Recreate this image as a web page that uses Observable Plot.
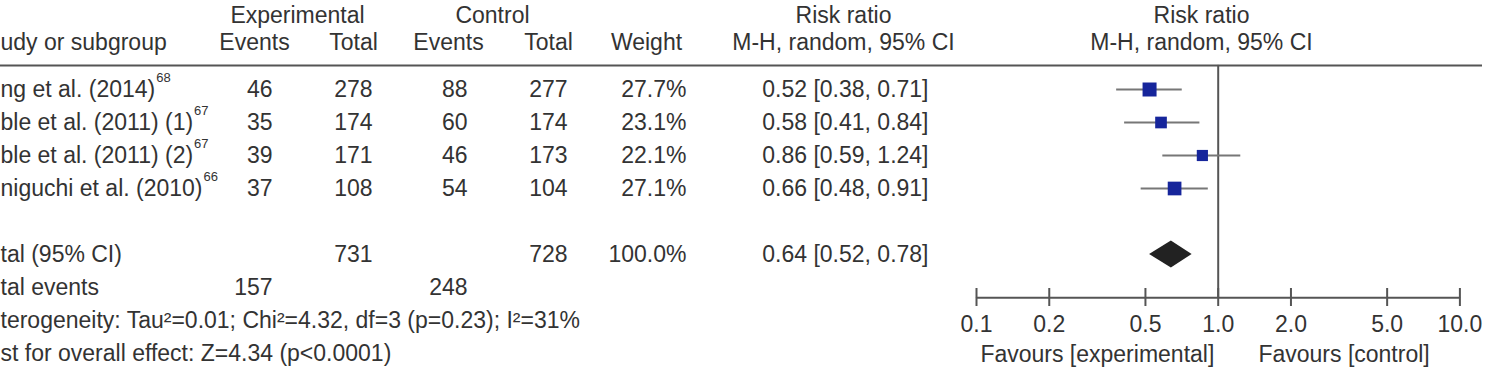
<!DOCTYPE html>
<html>
<head>
<meta charset="utf-8">
<script src="https://cdn.jsdelivr.net/npm/d3@7"></script>
<script src="https://cdn.jsdelivr.net/npm/@observablehq/plot@0.6"></script>
<style>
  html, body { margin: 0; padding: 0; background: #fff; }
  #chart svg { display: block; }
</style>
</head>
<body>
<div id="chart"></div>
<script>
// ---------- data ----------
const studyNames   = ["ng et al. (2014)", "ble et al. (2011) (1)", "ble et al. (2011) (2)", "niguchi et al. (2010)"];
const studyRefs    = ["68", "67", "67", "66"];
const expEvents    = [46, 35, 39, 37];
const expTotals    = [278, 174, 171, 108];
const ctrlEvents   = [88, 60, 46, 54];
const ctrlTotals   = [277, 174, 173, 104];
const weights      = [27.7, 23.1, 22.1, 27.1];
const riskRatios   = [0.52, 0.58, 0.86, 0.66];
const ciLower      = [0.38, 0.41, 0.59, 0.48];
const ciUpper      = [0.71, 0.84, 1.24, 0.91];

const totalLabel     = "tal (95% CI)";
const totalExp       = 731;
const totalCtrl      = 728;
const totalWeight    = 100.0;
const pooledRR       = 0.64;
const pooledLower    = 0.52;
const pooledUpper    = 0.78;
const eventsLabel    = "tal events";
const totalExpEvents = 157;
const totalCtrlEvents = 248;
const heterogeneityText = "terogeneity: Tau\u00B2=0.01; Chi\u00B2=4.32, df=3 (p=0.23); I\u00B2=31%";
const overallText       = "st for overall effect: Z=4.34 (p<0.0001)";

const headerTop = ["Experimental", "Control", "Risk ratio", "Risk ratio"];
const headerSub = ["udy or subgroup", "Events", "Total", "Events", "Total", "Weight", "M-H, random, 95% CI", "M-H, random, 95% CI"];
const xTicks = [0.1, 0.2, 0.5, 1, 2, 5, 10];
const favourLabels = ["Favours [experimental]", "Favours [control]"];

// ---------- layout ----------
const FONT = "'Liberation Sans', Arial, sans-serif";
const FS = 23;
const topPos = [297, 492, 843, 1201];
const subPos = [0, 254, 353, 448, 548, 646, 843, 1201];
const subAnchor = ["start", "middle", "middle", "middle", "middle", "middle", "middle", "middle"];
const colRight = {expE: 272, expT: 372, ctrlE: 467, ctrlT: 567, weight: 686, rr: 928};
const studyX = 0;
const rowHeaderTop = -2.24, rowHeaderSub = -1.41, rowLine = -0.73;
const rowTotal = 5, rowEvents = 6, rowHet = 7, rowTest = 8;
const rowAxis = 6.31, rowTickTop = 6.03, rowFavour = 8.03;
const favourShift = [0, 5];
const TEXT = "#333", LINE = "#555";

const fmt2 = v => v.toFixed(2);
const ciText = (m, l, u) => `${fmt2(m)} [${fmt2(l)}, ${fmt2(u)}]`;

const studies = studyNames.map((name, i) => ({
  row: i, name, ref: studyRefs[i],
  ee: expEvents[i], et: expTotals[i], ce: ctrlEvents[i], ct: ctrlTotals[i],
  w: weights[i], rr: riskRatios[i], lo: ciLower[i], hi: ciUpper[i],
  wText: weights[i].toFixed(1) + "%", ci: ciText(riskRatios[i], ciLower[i], ciUpper[i])
}));

// measure name widths for superscript placement
const ctx = document.createElement("canvas").getContext("2d");
ctx.font = `${FS}px ${FONT}`;
studies.forEach(d => d.nameW = ctx.measureText(d.name).width);

const diamond = [
  {x: pooledLower, h: 0},
  {x: pooledRR, h: 1},
  {x: pooledUpper, h: 0}
];
const diamondHalf = 0.41;

const totalRow = [{row: rowTotal}];
const eventsRow = [{row: rowEvents}];

const leftText = (data, opts) => Plot.text(data, {frameAnchor: "left", ...opts});

const chart = Plot.plot({
  width: 1486,
  height: 371,
  marginTop: 0,
  marginLeft: 0,
  marginRight: 4,
  marginBottom: 74,
  style: {fontFamily: FONT, fontSize: FS + "px", color: TEXT, background: "#fff", overflow: "visible"},
  x: {type: "log", domain: [0.1, 10], range: [976, 1459.4], label: null},
  y: {domain: [0, 8], range: [89, 353], axis: null},
  r: {type: "linear", domain: [0, 27.7], range: [0, 7.9]},
  marks: [
    // header rule
    Plot.ruleY([rowLine], {stroke: LINE, strokeWidth: 2}),
    // headers
    ...headerTop.map((t, i) => leftText([t], {y: () => rowHeaderTop, text: d => d, dx: topPos[i], textAnchor: "middle"})),
    ...headerSub.map((t, i) => leftText([t], {y: () => rowHeaderSub, text: d => d, dx: subPos[i], textAnchor: subAnchor[i]})),
    // study rows
    leftText(studies, {y: "row", text: "name", dx: studyX, textAnchor: "start"}),
    ...studies.map(d => leftText([d], {y: "row", text: "ref", dx: studyX + d.nameW + 1, dy: -12, textAnchor: "start", fontSize: 13})),
    leftText(studies, {y: "row", text: "ee", dx: colRight.expE, textAnchor: "end"}),
    leftText(studies, {y: "row", text: "et", dx: colRight.expT, textAnchor: "end"}),
    leftText(studies, {y: "row", text: "ce", dx: colRight.ctrlE, textAnchor: "end"}),
    leftText(studies, {y: "row", text: "ct", dx: colRight.ctrlT, textAnchor: "end"}),
    leftText(studies, {y: "row", text: "wText", dx: colRight.weight, textAnchor: "end"}),
    leftText(studies, {y: "row", text: "ci", dx: colRight.rr, textAnchor: "end"}),
    // total row
    leftText(totalRow, {y: "row", text: () => totalLabel, dx: studyX, textAnchor: "start"}),
    leftText(totalRow, {y: "row", text: () => String(totalExp), dx: colRight.expT, textAnchor: "end"}),
    leftText(totalRow, {y: "row", text: () => String(totalCtrl), dx: colRight.ctrlT, textAnchor: "end"}),
    leftText(totalRow, {y: "row", text: () => totalWeight.toFixed(1) + "%", dx: colRight.weight, textAnchor: "end"}),
    leftText(totalRow, {y: "row", text: () => ciText(pooledRR, pooledLower, pooledUpper), dx: colRight.rr, textAnchor: "end"}),
    // total events
    leftText(eventsRow, {y: "row", text: () => eventsLabel, dx: studyX, textAnchor: "start"}),
    leftText(eventsRow, {y: "row", text: () => String(totalExpEvents), dx: colRight.expE, textAnchor: "end"}),
    leftText(eventsRow, {y: "row", text: () => String(totalCtrlEvents), dx: colRight.ctrlE, textAnchor: "end"}),
    // heterogeneity & test
    leftText([heterogeneityText], {y: () => rowHet, text: d => d, dx: studyX, textAnchor: "start"}),
    leftText([overallText], {y: () => rowTest, text: d => d, dx: studyX, textAnchor: "start"}),
    // null line
    Plot.ruleX([1], {y1: rowLine, y2: rowAxis, stroke: LINE, strokeWidth: 2}),
    // CIs and squares
    Plot.ruleY(studies, {y: "row", x1: "lo", x2: "hi", stroke: "#777", strokeWidth: 2}),
    Plot.dot(studies, {x: "rr", y: "row", r: "w", symbol: "square", fill: "#16259b", stroke: "none"}),
    // pooled diamond
    Plot.area(diamond, {x1: "x", y1: d => rowTotal - d.h * diamondHalf, y2: d => rowTotal + d.h * diamondHalf, fill: "#222", curve: "linear"}),
    // axis
    Plot.ruleY([rowAxis], {x1: xTicks[0], x2: xTicks[xTicks.length - 1], stroke: LINE, strokeWidth: 2}),
    Plot.ruleX(xTicks, {y1: rowTickTop, y2: rowAxis, stroke: LINE, strokeWidth: 2}),
    Plot.axisX({ticks: xTicks, tickFormat: d => d.toFixed(1), tickSize: 9, tickPadding: 9, stroke: LINE, strokeWidth: 2, fill: TEXT, label: null, fontSize: FS}),
    ...favourLabels.map((t, i) => Plot.text([t], {
      x: () => i === 0 ? Math.sqrt(xTicks[0] * 1) : Math.sqrt(1 * xTicks[xTicks.length - 1]),
      y: () => rowFavour, text: d => d, textAnchor: "middle", dx: favourShift[i]
    }))
  ]
});

document.getElementById("chart").appendChild(chart);
</script>
</body>
</html>
